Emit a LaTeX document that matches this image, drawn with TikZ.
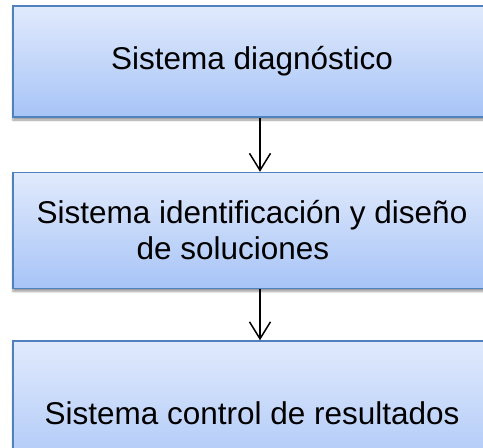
\documentclass[tikz,border=0pt]{standalone}
\usepackage{fontspec}
\setmainfont{Liberation Sans}
\usetikzlibrary{positioning,arrows.meta,shadows.blur}
\definecolor{boxtop}{HTML}{E1EAFC}
\definecolor{boxbottom}{HTML}{A7C4F7}
\definecolor{boxline}{HTML}{4F81BD}

\begin{document}
\begin{tikzpicture}[
        x=1pt, y=1pt,
        node distance=54pt,
        sysstyle/.style={draw=boxline, line width=1.5pt, top color=boxtop, bottom color=boxbottom,
          minimum width=478pt, inner sep=0pt, align=center, font=\fontsize{31.5}{36}\selectfont,
          blur shadow={shadow xshift=0pt, shadow yshift=-3pt, shadow blur steps=6}},
        pathstyle/.style={-{Straight Barb[length=17pt, width=21pt, line width=1.5pt]}, line width=1.5pt}
      ]
        \clip (0,0) rectangle (483,-448);
        \useasboundingbox (0,0) rectangle (483,-448);
        \node[sysstyle, minimum height=111pt] (DIAG)
          at (252,-61.5) {Sistema diagnóstico};
        \node[sysstyle, minimum height=116pt, below=of DIAG] (IDENT)
          {Sistema identificación y diseño\\de soluciones\hspace*{38pt}};
        \node[sysstyle, minimum height=144pt, below=51pt of IDENT] (CTRL)
          {Sistema control de resultados};

        \draw[pathstyle] ([xshift=8pt]DIAG.south) -- ([xshift=8pt]IDENT.north);
        \draw[pathstyle] ([xshift=8pt]IDENT.south) -- ([xshift=8pt]CTRL.north);
      \end{tikzpicture}
\end{document}
